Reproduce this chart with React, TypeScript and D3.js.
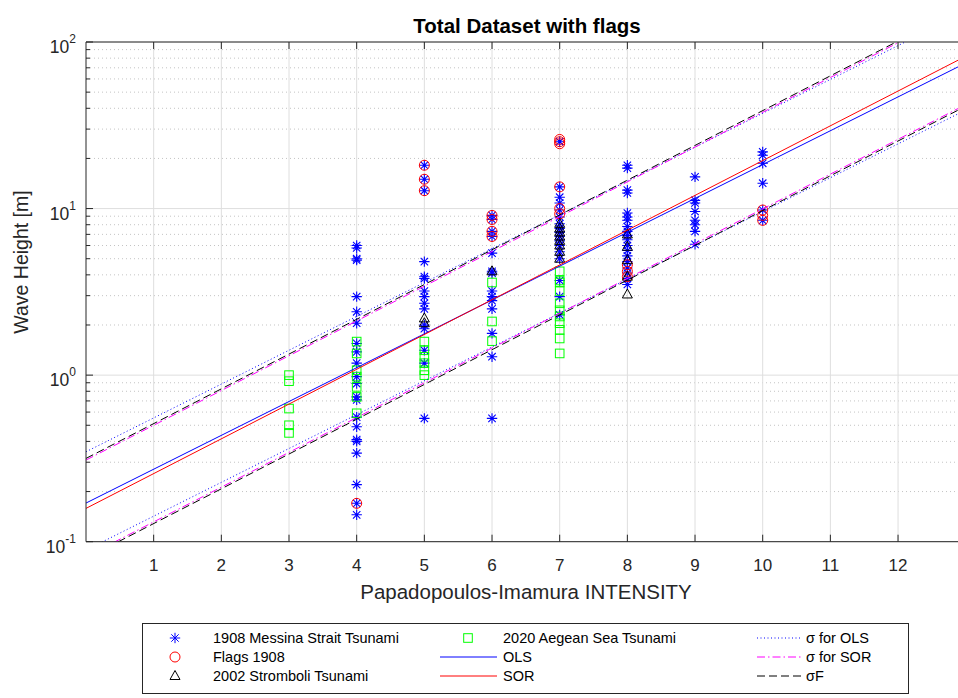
import React, { useEffect, useRef } from "react";
import * as d3 from "d3";

// [intensity, wave height in m]
const messina: [number, number][] = [
  [4, 6.0], [4, 5.8], [4, 5.0], [4, 4.9], [4, 2.96], [4, 2.4], [4, 2.05], [4, 1.55], [4, 1.38],
  [4, 1.18], [4, 0.98], [4, 0.89], [4, 0.74], [4, 0.71], [4, 0.56], [4, 0.49], [4, 0.41], [4, 0.4],
  [4, 0.34], [4, 0.22], [4, 0.17], [4, 0.145],
  [5, 18.2], [5, 15.0], [5, 12.8], [5, 4.8], [5, 3.9], [5, 3.8], [5, 3.2], [5, 2.96], [5, 2.7],
  [5, 2.5], [5, 2.0], [5, 1.9], [5, 1.41], [5, 1.18], [5, 0.55],
  [6, 9.1], [6, 8.6], [6, 7.3], [6, 6.8], [6, 5.4], [6, 4.2], [6, 4.1], [6, 3.2], [6, 2.96],
  [6, 2.8], [6, 2.5], [6, 1.78], [6, 1.29], [6, 0.55],
  [7, 25.2], [7, 13.5], [7, 11.7], [7, 10.8], [7, 9.8], [7, 8.9], [7, 8.1], [7, 7.6], [7, 7.2],
  [7, 6.8], [7, 6.4], [7, 6.0], [7, 5.5], [7, 5.0], [7, 3.7], [7, 2.96], [7, 2.3],
  [8, 18.2], [8, 17.5], [8, 12.9], [8, 12.4], [8, 9.4], [8, 8.9], [8, 8.5], [8, 7.8], [8, 7.3],
  [8, 6.9], [8, 6.5], [8, 6.0], [8, 5.6], [8, 5.2], [8, 4.8], [8, 4.4], [8, 4.1], [8, 3.8], [8, 3.5],
  [9, 15.5], [9, 11.2], [9, 10.8], [9, 9.6], [9, 8.5], [9, 8.0], [9, 7.3], [9, 6.1],
  [10, 21.9], [10, 20.9], [10, 18.7], [10, 14.2], [10, 9.8], [10, 8.5],
];

const flags1908: [number, number][] = [
  [4, 0.17],
  [5, 18.2], [5, 15.0], [5, 12.8],
  [6, 9.1], [6, 8.6], [6, 7.3], [6, 6.8],
  [7, 24.5], [7, 25.2], [7, 26.0], [7, 13.5], [7, 10.0], [7, 9.3],
  [8, 4.6], [8, 4.2], [8, 3.9],
  [10, 9.8], [10, 9.1], [10, 8.5],
];

const stromboli: [number, number][] = [
  [5, 2.19], [5, 2.05],
  [6, 4.2],
  [7, 8.1], [7, 7.6], [7, 7.2], [7, 6.8], [7, 6.4], [7, 6.0], [7, 5.5], [7, 5.0],
  [8, 7.0], [8, 5.9], [8, 4.9], [8, 3.9], [8, 3.05],
];

const aegean: [number, number][] = [
  [3, 1.0], [3, 0.92], [3, 0.63], [3, 0.5], [3, 0.45],
  [4, 1.59], [4, 1.35], [4, 1.07], [4, 0.98], [4, 0.85], [4, 0.74], [4, 0.59],
  [5, 1.59], [5, 1.41], [5, 1.29], [5, 1.18], [5, 1.07], [5, 1.0],
  [6, 3.6], [6, 2.1], [6, 1.6],
  [7, 4.2], [7, 3.7], [7, 3.6], [7, 3.2], [7, 2.7], [7, 2.45], [7, 2.25], [7, 2.05], [7, 1.87],
  [7, 1.66], [7, 1.35],
];

// log10(H) = a + b * I
const olsFit = [-0.768, 0.2032];
const sorFit = [-0.8, 0.2088];
const sigmaOlsUp = [-0.46, 0.2032];
const sigmaOlsLow = [-1.05, 0.2032];
const sigmaSorUp = [-0.51, 0.2088];
const sigmaSorLow = [-1.09, 0.2088];
const sigmaFUp = [-0.5, 0.2088];
const sigmaFLow = [-1.1, 0.2088];

const xTicks = [1, 2, 3, 4, 5, 6, 7, 8, 9, 10, 11, 12];
const yDecades = [-1, 0, 1, 2];

const legendCol1 = ["1908 Messina Strait Tsunami", "Flags 1908", "2002 Stromboli Tsunami"];
const legendCol2 = ["2020 Aegean Sea Tsunami", "OLS", "SOR"];
const legendCol3 = ["σ for OLS", "σ for SOR", "σF"];

const FONT = "'Liberation Sans', Arial, Helvetica, sans-serif";
const INK = "#262626";

export default function App() {
  const ref = useRef<SVGSVGElement>(null);

  useEffect(() => {
    const width = 958;
    const height = 698;
    const margin = { left: 86, top: 42 };
    const plotBottom = 541.7;
    const unit = 67.67;

    const svg = d3.select(ref.current);
    svg.selectAll("*").remove();
    svg.attr("width", width).attr("height", height);

    const x = d3.scaleLinear().domain([0, 13]).range([margin.left, margin.left + 13 * unit]);
    const y = d3.scaleLog().domain([0.1, 100]).range([plotBottom, margin.top]);
    const [x0, x1] = x.range();

    svg.append("defs").append("clipPath").attr("id", "plotclip")
      .append("rect").attr("x", x0).attr("y", margin.top)
      .attr("width", x1 - x0).attr("height", plotBottom - margin.top);

    svg.append("rect").attr("x", x0).attr("y", margin.top)
      .attr("width", x1 - x0).attr("height", plotBottom - margin.top).attr("fill", "white");

    // grid
    const grid = svg.append("g");
    const minor: number[] = [];
    yDecades.slice(0, -1).forEach((d) => {
      for (let k = 2; k <= 9; k++) minor.push(k * Math.pow(10, d));
    });
    grid.selectAll(".ymin").data(minor).enter().append("line")
      .attr("x1", x0).attr("x2", x1)
      .attr("y1", (d) => y(d)).attr("y2", (d) => y(d))
      .attr("stroke", "#c4c4c4").attr("stroke-width", 1).attr("stroke-dasharray", "1,3");
    grid.selectAll(".ymaj").data(yDecades).enter().append("line")
      .attr("x1", x0).attr("x2", x1)
      .attr("y1", (d) => y(Math.pow(10, d))).attr("y2", (d) => y(Math.pow(10, d)))
      .attr("stroke", "#dedede").attr("stroke-width", 1);
    grid.selectAll(".xmaj").data(xTicks).enter().append("line")
      .attr("x1", (d) => x(d)).attr("x2", (d) => x(d))
      .attr("y1", margin.top).attr("y2", plotBottom)
      .attr("stroke", "#dedede").attr("stroke-width", 1);

    // markers
    const plot = svg.append("g").attr("clip-path", "url(#plotclip)");
    const star = "M-5.2,0H5.2M0,-5.2V5.2M-3.7,-3.7L3.7,3.7M-3.7,3.7L3.7,-3.7";
    const tri = "M0,-5.5L5,3.5L-5,3.5Z";

    plot.append("g").selectAll("path").data(messina).enter().append("path")
      .attr("d", star).attr("transform", (d) => `translate(${x(d[0])},${y(d[1])})`)
      .attr("stroke", "#0000ff").attr("stroke-width", 1.1).attr("fill", "none");
    plot.append("g").selectAll("circle").data(flags1908).enter().append("circle")
      .attr("cx", (d) => x(d[0])).attr("cy", (d) => y(d[1])).attr("r", 5)
      .attr("stroke", "#ff0000").attr("stroke-width", 1).attr("fill", "none");
    plot.append("g").selectAll("path").data(stromboli).enter().append("path")
      .attr("d", tri).attr("transform", (d) => `translate(${x(d[0])},${y(d[1])})`)
      .attr("stroke", "#000").attr("stroke-width", 1).attr("fill", "none");
    plot.append("g").selectAll("rect").data(aegean).enter().append("rect")
      .attr("x", (d) => x(d[0]) - 4.3).attr("y", (d) => y(d[1]) - 4.3)
      .attr("width", 8.6).attr("height", 8.6)
      .attr("stroke", "#00ff00").attr("stroke-width", 1).attr("fill", "none");

    // regression lines
    const drawFit = (fit: number[], color: string, dash: string | null) => {
      const fitLine = d3.line<number>()
        .x((i) => x(i))
        .y((i) => y(Math.pow(10, fit[0] + fit[1] * i)));
      const p = plot.append("path").attr("d", fitLine([0, 13]))
        .attr("fill", "none").attr("stroke", color).attr("stroke-width", 1);
      if (dash) p.attr("stroke-dasharray", dash);
    };
    drawFit(olsFit, "#0000ff", null);
    drawFit(sorFit, "#ff0000", null);
    drawFit(sigmaOlsUp, "#0000ff", "1,2.5");
    drawFit(sigmaOlsLow, "#0000ff", "1,2.5");
    drawFit(sigmaSorUp, "#ff00ff", "8,3,1.5,3");
    drawFit(sigmaSorLow, "#ff00ff", "8,3,1.5,3");
    drawFit(sigmaFUp, "#000000", "8,4");
    drawFit(sigmaFLow, "#000000", "8,4");

    // axes box and ticks
    const ax = svg.append("g").attr("stroke", INK).attr("stroke-width", 1);
    ax.append("line").attr("x1", x0).attr("x2", x1).attr("y1", plotBottom).attr("y2", plotBottom);
    ax.append("line").attr("x1", x0).attr("x2", x1).attr("y1", margin.top).attr("y2", margin.top);
    ax.append("line").attr("x1", x0).attr("x2", x0).attr("y1", margin.top).attr("y2", plotBottom);
    xTicks.forEach((t) => {
      ax.append("line").attr("x1", x(t)).attr("x2", x(t)).attr("y1", plotBottom).attr("y2", plotBottom - 7);
      ax.append("line").attr("x1", x(t)).attr("x2", x(t)).attr("y1", margin.top).attr("y2", margin.top + 7);
    });
    yDecades.forEach((d) => {
      ax.append("line").attr("x1", x0).attr("x2", x0 + 7)
        .attr("y1", y(Math.pow(10, d))).attr("y2", y(Math.pow(10, d)));
    });
    minor.forEach((v) => {
      ax.append("line").attr("x1", x0).attr("x2", x0 + 4).attr("y1", y(v)).attr("y2", y(v));
    });

    const txt = svg.append("g").attr("font-family", FONT).attr("fill", INK);
    txt.selectAll(".xt").data(xTicks).enter().append("text")
      .attr("x", (d) => x(d)).attr("y", plotBottom + 29.5)
      .attr("text-anchor", "middle").attr("font-size", 17).text((d) => d);
    yDecades.forEach((d) => {
      const t = txt.append("text").attr("x", 76).attr("y", y(Math.pow(10, d)) + 11)
        .attr("text-anchor", "end").attr("font-size", 17.5);
      t.append("tspan").text("10");
      t.append("tspan").attr("font-size", 12).attr("dy", -10).text(String(d));
    });

    txt.append("text").attr("x", 526).attr("y", 599)
      .attr("text-anchor", "middle").attr("font-size", 20.5).text("Papadopoulos-Imamura INTENSITY");
    txt.append("text").attr("transform", `translate(28, 262) rotate(-90)`)
      .attr("text-anchor", "middle").attr("font-size", 19.5).text("Wave Height [m]");
    svg.append("text").attr("x", 527).attr("y", 33)
      .attr("text-anchor", "middle").attr("font-family", FONT).attr("font-weight", "bold")
      .attr("font-size", 20.5).attr("fill", "#000").text("Total Dataset with flags");

    // legend
    const lg = svg.append("g");
    lg.append("rect").attr("x", 142.5).attr("y", 623.5).attr("width", 766).attr("height", 70)
      .attr("fill", "white").attr("stroke", INK).attr("stroke-width", 1);
    const rows = [638, 657, 676];
    const icon = (cx: number, cy: number, kind: string) => {
      if (kind === "star") lg.append("path").attr("d", star).attr("transform", `translate(${cx},${cy})`)
        .attr("stroke", "#0000ff").attr("fill", "none");
      if (kind === "circle") lg.append("circle").attr("cx", cx).attr("cy", cy).attr("r", 5)
        .attr("stroke", "#ff0000").attr("fill", "none");
      if (kind === "tri") lg.append("path").attr("d", tri).attr("transform", `translate(${cx},${cy})`)
        .attr("stroke", "#000").attr("fill", "none");
      if (kind === "square") lg.append("rect").attr("x", cx - 4.3).attr("y", cy - 4.3)
        .attr("width", 8.6).attr("height", 8.6).attr("stroke", "#00ff00").attr("fill", "none");
    };
    const seg = (xa: number, xb: number, cy: number, color: string, dash: string | null) => {
      const l = lg.append("line").attr("x1", xa).attr("x2", xb).attr("y1", cy).attr("y2", cy)
        .attr("stroke", color).attr("stroke-width", 1);
      if (dash) l.attr("stroke-dasharray", dash);
    };
    icon(175, rows[0], "star");
    icon(175, rows[1], "circle");
    icon(175, rows[2], "tri");
    icon(468, rows[0], "square");
    seg(440, 497, rows[1], "#0000ff", null);
    seg(440, 497, rows[2], "#ff0000", null);
    seg(757, 801, rows[0], "#0000ff", "1,2.5");
    seg(757, 801, rows[1], "#ff00ff", "8,3,1.5,3");
    seg(757, 801, rows[2], "#000000", "8,4");

    const lt = lg.append("g").attr("font-family", FONT).attr("font-size", 14.5).attr("fill", "#000");
    const addCol = (labels: string[], xs: number) => {
      labels.forEach((s, i) => {
        lt.append("text").attr("x", xs).attr("y", rows[i] + 5).text(s);
      });
    };
    addCol(legendCol1, 213);
    addCol(legendCol2, 503);
    addCol(legendCol3, 806);
  }, []);

  return <svg ref={ref} style={{ position: "absolute", left: 0, top: 0 }}></svg>;
}
